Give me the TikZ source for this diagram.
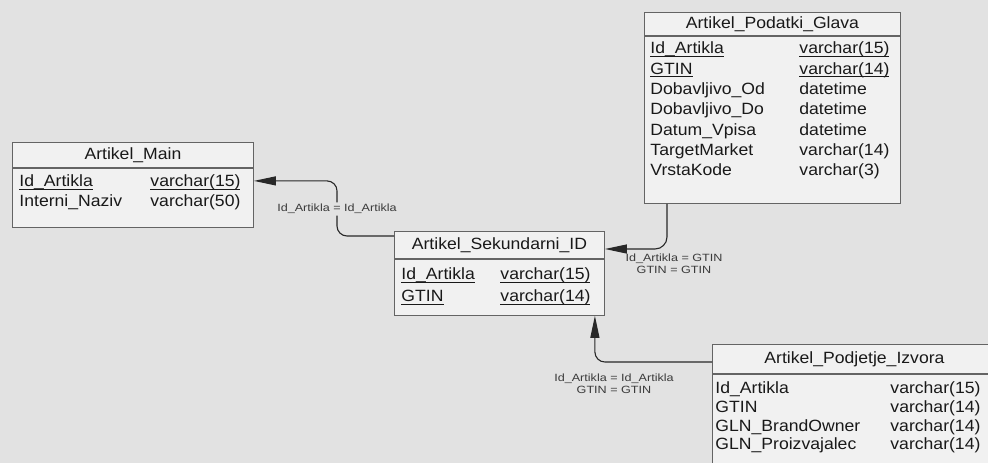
\documentclass[tikz,border=0pt]{standalone}
\usepackage{fontspec}
\setmainfont{Liberation Sans}[FakeStretch=1.08]
\newfontfamily\relfont{Liberation Sans}[FakeStretch=1.2]
\usetikzlibrary{arrows.meta, calc}
\definecolor{PageGrey}{RGB}{226,226,226}
\definecolor{TableFill}{RGB}{241,241,241}
\definecolor{BorderGrey}{RGB}{100,100,100}
\definecolor{LineDark}{RGB}{40,40,40}
\definecolor{TextDark}{RGB}{25,25,25}
\newcommand{\pkey}[1]{\setbox0\hbox{#1}\rlap{\rule[-2.8pt]{\wd0}{0.9pt}}\box0}
\tikzset{
    tblhead/.style={rectangle, draw=BorderGrey, fill=TableFill, text=TextDark, line width=0.9pt, inner sep=0pt, anchor=north west, font=\fontsize{16.3}{19}\selectfont},
    tblbody/.style={rectangle, draw=BorderGrey, fill=TableFill, text=TextDark, line width=0.9pt, align=left, inner ysep=0pt, anchor=north west},
    rel/.style={draw=LineDark, line width=1.1pt, rounded corners=10pt, -{Triangle[length=22pt, width=9pt]}},
    rellabel/.style={font=\relfont\fontsize{10.5}{12}\selectfont, text=TextDark!85, align=center, inner sep=1.5pt}
}

\begin{document}
\begin{tikzpicture}[x=1pt, y=-1pt]
\fill[PageGrey] (0,0) rectangle (988,463);
\useasboundingbox (0,0) rectangle (988,463);
\clip (0,0) rectangle (988,463);

% tables
\node[tblhead, minimum width=241pt, minimum height=25pt] (mainh) at (12,142) {Artikel\_Main};
\node[tblbody, text width=227pt, inner xsep=7pt, font=\fontsize{16.3}{20}\selectfont] (mainb) at (mainh.south west) {\rule{0pt}{18.5pt}\makebox[131pt][l]{\pkey{Id\_Artikla}}\pkey{varchar(15)}\\
\makebox[131pt][l]{Interni\_Naziv}varchar(50)\rule[-20.5pt]{0pt}{20.5pt}};

\node[tblhead, minimum width=210pt, minimum height=27pt] (sekh) at (394,231) {Artikel\_Sekundarni\_ID};
\node[tblbody, text width=196pt, inner xsep=7pt, font=\fontsize{16.3}{22}\selectfont] (sekb) at (sekh.south west) {\rule{0pt}{20.5pt}\makebox[99pt][l]{\pkey{Id\_Artikla}}\pkey{varchar(15)}\\
\makebox[99pt][l]{\pkey{GTIN}}\pkey{varchar(14)}\rule[-13.5pt]{0pt}{13.5pt}};

\node[tblhead, minimum width=256pt, minimum height=23pt] (podh) at (644,12) {Artikel\_Podatki\_Glava};
\node[tblbody, text width=244pt, inner xsep=6pt, font=\fontsize{16.3}{20.33}\selectfont] (podb) at (podh.south west) {\rule{0pt}{17.5pt}\makebox[149pt][l]{\pkey{Id\_Artikla}}\pkey{varchar(15)}\\
\makebox[149pt][l]{\pkey{GTIN}}\pkey{varchar(14)}\\
\makebox[149pt][l]{Dobavljivo\_Od}datetime\\
\makebox[149pt][l]{Dobavljivo\_Do}datetime\\
\makebox[149pt][l]{Datum\_Vpisa}datetime\\
\makebox[149pt][l]{TargetMarket}varchar(14)\\
\makebox[149pt][l]{VrstaKode}varchar(3)\rule[-27.5pt]{0pt}{27.5pt}};

\node[tblhead, minimum width=284pt, minimum height=29pt] (izvh) at (712,344) {Artikel\_Podjetje\_Izvora};
\node[tblbody, text width=278pt, inner xsep=3pt, font=\fontsize{16.3}{18.7}\selectfont] (izvb) at (izvh.south west) {\rule{0pt}{19.5pt}\makebox[175pt][l]{Id\_Artikla}varchar(15)\\
\makebox[175pt][l]{GTIN}varchar(14)\\
\makebox[175pt][l]{GLN\_BrandOwner}varchar(14)\\
\makebox[175pt][l]{GLN\_Proizvajalec}varchar(14)\rule[-40pt]{0pt}{40pt}};

% relationship labels
\node[rellabel] (lab1) at (337,209) {Id\_Artikla = Id\_Artikla};
\node[rellabel] (lab2) at (674,264) {Id\_Artikla = GTIN\\GTIN = GTIN};
\node[rellabel] (lab3) at (614,384) {Id\_Artikla = Id\_Artikla\\GTIN = GTIN};

% relationships
\draw[rel] ($(sekh.north west)+(0,5)$) -| (lab1) |- ($(mainb.north east)+(0,13)$);
\draw[rel, rounded corners=12pt] ($(podb.south west)+(23,0)$) |- ($(sekh.north east)+(0,18)$);
\draw[rel] ($(izvh.north west)+(0,18)$) -| ($(sekb.south east)+(-10,0)$);
\end{tikzpicture}
\end{document}
